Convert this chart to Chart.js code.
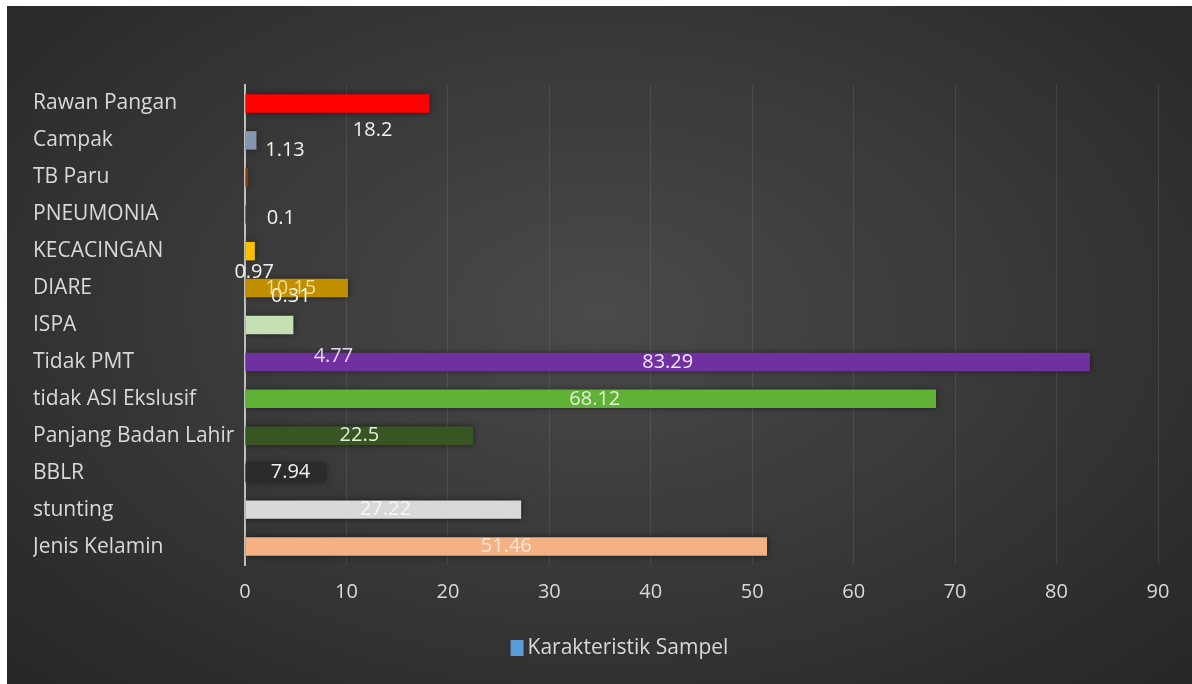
<!DOCTYPE html>
<html>
<head>
<meta charset="utf-8">
<script src="https://cdn.jsdelivr.net/npm/chart.js@4/dist/chart.umd.min.js"></script>
<style>
    html, body { margin: 0; padding: 0; background: #ffffff; }
    #wrap {
        position: absolute;
        left: 7px;
        top: 6px;
        width: 1185px;
        height: 678px;
        background: radial-gradient(ellipse at 50% 45%, #4a4a4a 0%, #3a3a3a 45%, #262626 100%);
    }
</style>
</head>
<body>
<div id="wrap"><canvas id="chart" width="1185" height="678"></canvas></div>
<script>
const categories = ['Rawan Pangan', 'Campak', 'TB Paru', 'PNEUMONIA', 'KECACINGAN', 'DIARE', 'ISPA',
    'Tidak PMT', 'tidak ASI Ekslusif', 'Panjang Badan Lahir', 'BBLR', 'stunting', 'Jenis Kelamin'];
const values = [18.2, 1.13, 0.31, 0.1, 0.97, 10.15, 4.77, 83.29, 68.12, 22.5, 7.94, 27.22, 51.46];
const barColors = ['#ff0000', '#8497b0', '#843c0c', '#203864', '#ffc000', '#bf8f00', '#c5e0b4',
    '#7030a0', '#5fb236', '#375623', '#2b2b2b', '#d9d9d9', '#f4b183'];
const seriesName = 'Karakteristik Sampel';
const xTicks = [0, 10, 20, 30, 40, 50, 60, 70, 80, 90];

// posisi label data seperti di gambar asli (geser dari tengah batang, px)
const labelShift = [[35, 27], [34, 10], [44, 119], [35, 4], [4, 21], [-6, 0], [64, 31],
    [0, 0], [4, 0], [0, 0], [5, 0], [2, 0], [0, 0]];
const labelColors = ['#f2f2f2', '#f2f2f2', '#f2f2f2', '#f2f2f2', '#f2f2f2', '#f0dc8c', '#e4d4f4',
    '#f0e6ff', '#e2f0d9', '#e2f0d9', '#f2f2f2', '#f7f7f7', '#fbe5d6'];

const FONT = "'Open Sans', 'Noto Sans', sans-serif";

const barShadow = {
    id: 'barShadow',
    beforeDatasetsDraw(chart) {
        const ctx = chart.ctx;
        ctx.save();
        ctx.shadowColor = 'rgba(0, 0, 0, 0.55)';
        ctx.shadowBlur = 6;
    },
    afterDatasetsDraw(chart) {
        chart.ctx.restore();
    }
};

const dataLabels = {
    id: 'dataLabels',
    afterDatasetsDraw(chart) {
        const ctx = chart.ctx;
        const meta = chart.getDatasetMeta(0);
        ctx.save();
        ctx.font = '20px ' + FONT;
        ctx.textAlign = 'center';
        ctx.textBaseline = 'middle';
        meta.data.forEach(function(bar, i) {
            const cx = (bar.base + bar.x) / 2 + labelShift[i][0];
            const cy = bar.y + labelShift[i][1];
            ctx.fillStyle = labelColors[i];
            ctx.fillText(String(values[i]), cx, cy);
        });
        ctx.restore();
    }
};

// legenda digambar sendiri supaya posisinya sama dengan aslinya
const legendBox = {
    id: 'legendBox',
    afterDraw(chart) {
        const ctx = chart.ctx;
        ctx.save();
        ctx.font = '21px ' + FONT;
        ctx.textBaseline = 'middle';
        const textW = ctx.measureText(seriesName).width;
        const boxW = 13, boxH = 16, gap = 4;
        const total = boxW + gap + textW;
        const cx = chart.width / 2 + 20;
        const cy = chart.chartArea.bottom + 83;
        const x0 = cx - total / 2;
        ctx.fillStyle = '#5b9bd5';
        ctx.fillRect(x0, cy - boxH / 2, boxW, boxH);
        ctx.fillStyle = '#d9d9d9';
        ctx.fillText(seriesName, x0 + boxW + gap, cy);
        ctx.restore();
    }
};

new Chart(document.getElementById('chart').getContext('2d'), {
    type: 'bar',
    data: {
        labels: categories,
        datasets: [{
            label: seriesName,
            data: values,
            backgroundColor: barColors,
            borderWidth: 0,
            barPercentage: 0.5,
            categoryPercentage: 1
        }]
    },
    options: {
        indexAxis: 'y',
        responsive: false,
        animation: false,
        layout: {
            padding: { top: 79, left: 26, right: 34, bottom: 55 }
        },
        scales: {
            x: {
                min: 0,
                max: 90,
                afterBuildTicks: function(scale) {
                    scale.ticks = xTicks.map(v => ({ value: v }));
                },
                afterFit: function(scale) { scale.height = 64; },
                grid: {
                    color: 'rgba(255, 255, 255, 0.09)',
                    lineWidth: 1,
                    drawTicks: false
                },
                border: { display: false },
                ticks: {
                    color: '#d9d9d9',
                    padding: 15,
                    font: { family: FONT, size: 20 }
                }
            },
            y: {
                afterFit: function(scale) { scale.width = 212; },
                grid: { display: false, drawTicks: false },
                border: { display: true, color: '#bfbfbf', width: 2 },
                ticks: {
                    color: '#d9d9d9',
                    crossAlign: 'far',
                    font: { family: FONT, size: 21 }
                }
            }
        },
        plugins: {
            legend: { display: false },
            tooltip: { enabled: false }
        }
    },
    plugins: [barShadow, dataLabels, legendBox]
});
</script>
</body>
</html>
